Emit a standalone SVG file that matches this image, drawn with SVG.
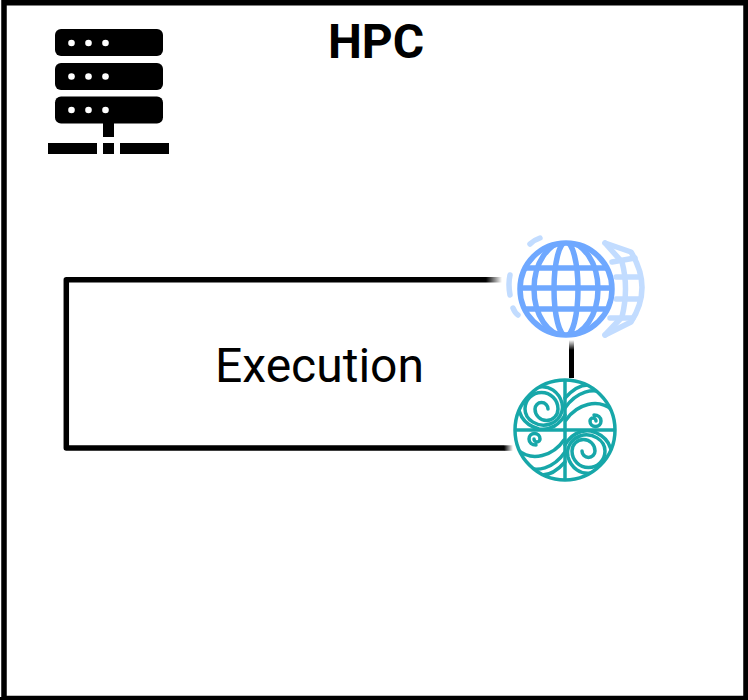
<svg xmlns="http://www.w3.org/2000/svg" width="748" height="700" viewBox="0 0 748 700">
<style>
.t{font-family:Roboto,"Liberation Sans",sans-serif;fill:#000;text-anchor:middle}
.srv{fill:#000}
.dot{fill:#fff}
.g{fill:none;stroke:#6fa8ff;stroke-width:5.500}
.b{fill:none;stroke:#c2dcff;stroke-width:5.500;stroke-linejoin:round;stroke-linecap:round}
.w{fill:none;stroke:#17a7a9;stroke-width:3.500;stroke-linecap:round}
</style>
<defs>
<linearGradient id="fa" gradientUnits="userSpaceOnUse" x1="486" y1="0" x2="502" y2="0"><stop offset="0" stop-color="#000"/><stop offset="1" stop-color="#000" stop-opacity="0"/></linearGradient>
<linearGradient id="fb" gradientUnits="userSpaceOnUse" x1="504" y1="0" x2="513" y2="0"><stop offset="0" stop-color="#000"/><stop offset="1" stop-color="#000" stop-opacity="0"/></linearGradient>
<linearGradient id="fc" gradientUnits="userSpaceOnUse" x1="0" y1="350" x2="0" y2="340"><stop offset="0" stop-color="#000"/><stop offset="1" stop-color="#000" stop-opacity="0"/></linearGradient>
<clipPath id="gc"><circle cx="566" cy="289" r="46"/></clipPath>
<clipPath id="wc"><circle cx="565" cy="430" r="50"/></clipPath>
<g id="waveHalf">
<path class="w" d="M548 409A6.500 6.500 0 0 0 535 409A11.500 11.500 0 0 0 558 409A16.500 16.500 0 0 0 525 409C525 420 538 428 550 424C559 421 564 412 562 403C559 392 549 385 539 387"/>
<path class="w" d="M521 396C514 412 524 425 539 429C550 431 560 424 565 415"/>
<path class="w" d="M565 398C573 389 581 384 590 385"/>
<path class="w" d="M565 408C576 392 594 386 606 395"/>
<path class="w" d="M566 420C577 404 598 398 612 410"/>
<path class="w" d="M596 421A3 3 0 0 0 590 421A5.500 5.500 0 0 0 601 421C601 417 598 415 594 415"/>
</g>
</defs>
<path d="M4 2.800H746V698.500H4Z" fill="#fff" stroke="#000" stroke-width="5.500"/>
<rect x="744" y="0" width="4" height="700" fill="#000"/>
<rect x="0" y="697" width="748" height="3" fill="#000"/>
<g id="connectors">
<path d="M486 279.700H66.300V448H504" fill="none" stroke="#000" stroke-width="5.500" stroke-linejoin="round"/>
<rect x="486" y="277" width="16" height="5.500" fill="url(#fa)"/>
<rect x="504" y="445.300" width="9" height="5.500" fill="url(#fb)"/>
<rect x="569" y="350" width="5" height="28" fill="#000"/>
<rect x="569" y="340" width="5" height="10" fill="url(#fc)"/>
</g>
<g id="hpc-icon">
<rect class="srv" x="55" y="29" width="108" height="27" rx="6"/>
<rect class="srv" x="55" y="63" width="108" height="27" rx="6"/>
<rect class="srv" x="55" y="96.500" width="108" height="27" rx="6"/>
<rect class="srv" x="103" y="123" width="11" height="14"/>
<rect class="srv" x="48" y="143" width="49" height="11"/>
<rect class="srv" x="103" y="143" width="11" height="11"/>
<rect class="srv" x="120" y="143" width="49" height="11"/>
<g class="dot">
<circle cx="71.500" cy="43" r="3.300"/><circle cx="88.500" cy="43" r="3.300"/><circle cx="105.500" cy="43" r="3.300"/>
<circle cx="71.500" cy="76.500" r="3.300"/><circle cx="88.500" cy="76.500" r="3.300"/><circle cx="105.500" cy="76.500" r="3.300"/>
<circle cx="71.500" cy="110" r="3.300"/><circle cx="88.500" cy="110" r="3.300"/><circle cx="105.500" cy="110" r="3.300"/>
</g>
</g>
<text class="t" x="376" y="58" font-size="48" font-weight="700">HPC</text>
<text class="t" x="319.500" y="382" font-size="48">Execution</text>
<g id="globe">
<path class="b" d="M605 243L631 252Q653 288 631 322L605 335"/>
<path class="b" d="M605 243L622 262Q629 288 622 317L605 335"/>
<path class="b" d="M612 262L635 258M616 277L640 277M616 299L640 299M610 318L633 318"/>
<path class="b" d="M510 275Q508 284 510 295M513 308Q515 313 518 315M530 244Q534 240 540 238"/>
<circle cx="566" cy="289" r="49" fill="#fff"/>
<circle class="g" cx="566" cy="289" r="46" stroke-width="6"/>
<g clip-path="url(#gc)">
<ellipse class="g" cx="566" cy="289" rx="12" ry="47"/>
<ellipse class="g" cx="566" cy="289" rx="32" ry="47"/>
<path class="g" d="M518 268H614M518 288H614M518 309H614"/>
</g>
</g>
<g id="wave">
<circle cx="565" cy="430" r="51" fill="#fff"/>
<circle class="w" cx="565" cy="430" r="50"/>
<g clip-path="url(#wc)">
<path class="w" d="M514 430H616M565 380V480"/>
<use href="#waveHalf"/>
<use href="#waveHalf" transform="rotate(180 565 430)"/>
</g>
</g>
</svg>
